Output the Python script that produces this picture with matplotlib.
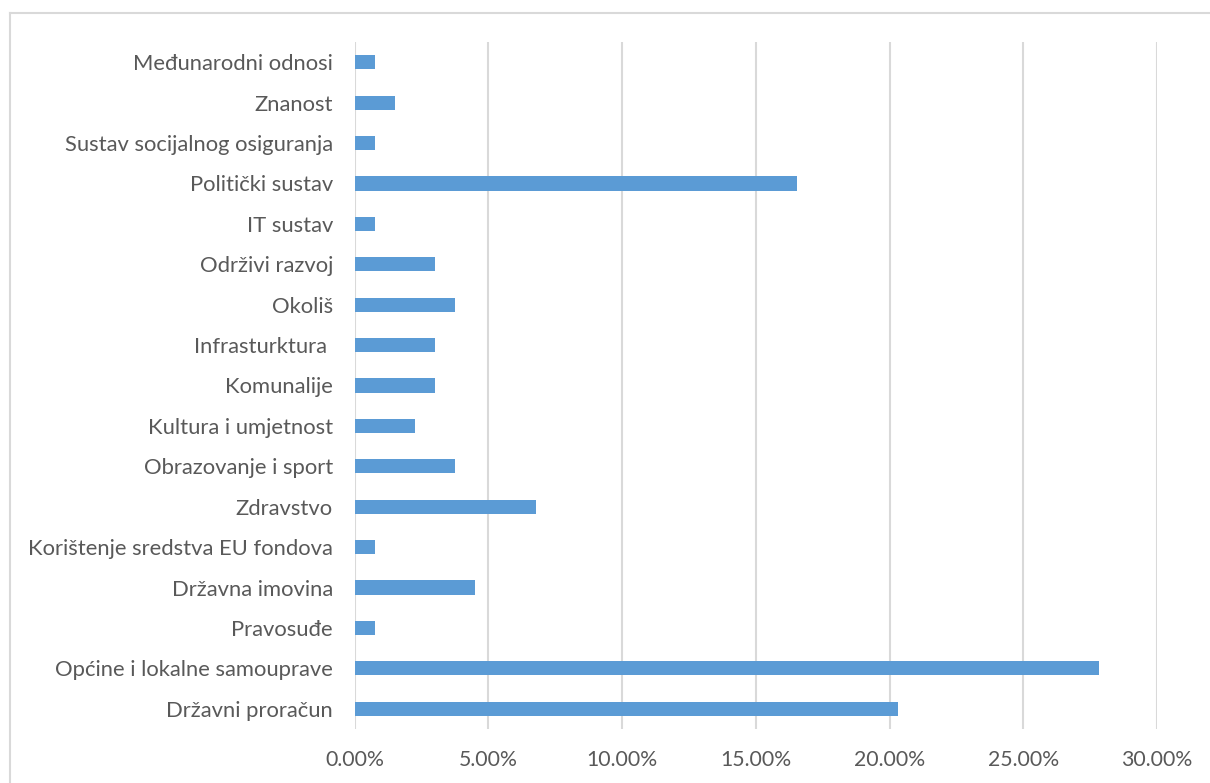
import matplotlib
matplotlib.use("Agg")
import matplotlib.pyplot as plt
from matplotlib.lines import Line2D
from matplotlib.ticker import FuncFormatter, MultipleLocator

categories = [
    "Državni proračun",
    "Općine i lokalne samouprave",
    "Pravosuđe",
    "Državna imovina",
    "Korištenje sredstva EU fondova",
    "Zdravstvo",
    "Obrazovanje i sport",
    "Kultura i umjetnost",
    "Komunalije",
    "Infrasturktura ",
    "Okoliš",
    "Održivi razvoj",
    "IT sustav",
    "Politički sustav",
    "Sustav socijalnog osiguranja",
    "Znanost",
    "Međunarodni odnosi",
]
values = [20.30, 27.82, 0.75, 4.51, 0.75, 6.77, 3.76, 2.26, 3.01, 3.01,
          3.76, 3.01, 0.75, 16.54, 0.75, 1.50, 0.75]

W, H = 1210, 783
fig = plt.figure(figsize=(W / 100, H / 100), dpi=100)
plt.rcParams['font.family'] = ['Lato', 'DejaVu Sans']
text_color = "#595959"

ax = fig.add_axes([354.5 / W, 1 - 729 / H, (1157 - 354.5) / W, (729 - 42) / H])
ys = list(range(len(categories)))
ax.barh(ys, values, height=0.35, color="#5B9BD5", zorder=3)
ax.set_xlim(0, 30)
ax.set_ylim(-0.5, len(categories) - 0.5)
ax.set_yticks(ys)
ax.set_yticklabels(categories, fontsize=15.8, color=text_color)
ax.xaxis.set_major_locator(MultipleLocator(5))
ax.xaxis.set_major_formatter(FuncFormatter(lambda v, p: f"{v:.2f}%"))
ax.tick_params(axis='x', labelsize=15.3, labelcolor=text_color, length=0, pad=15)
ax.tick_params(axis='y', length=0, pad=15.5)
ax.grid(axis='x', color="#D9D9D9", linewidth=1.5, zorder=0)
for s in ax.spines.values():
    s.set_visible(False)

# chart border
fig.add_artist(Line2D([10 / W, 10 / W], [0, 1 - 13 / H], transform=fig.transFigure,
                      color="#D9D9D9", linewidth=1.5))
fig.add_artist(Line2D([10 / W, 1], [1 - 13 / H, 1 - 13 / H], transform=fig.transFigure,
                      color="#D9D9D9", linewidth=1.5))

fig.savefig("out.png", dpi=100)
